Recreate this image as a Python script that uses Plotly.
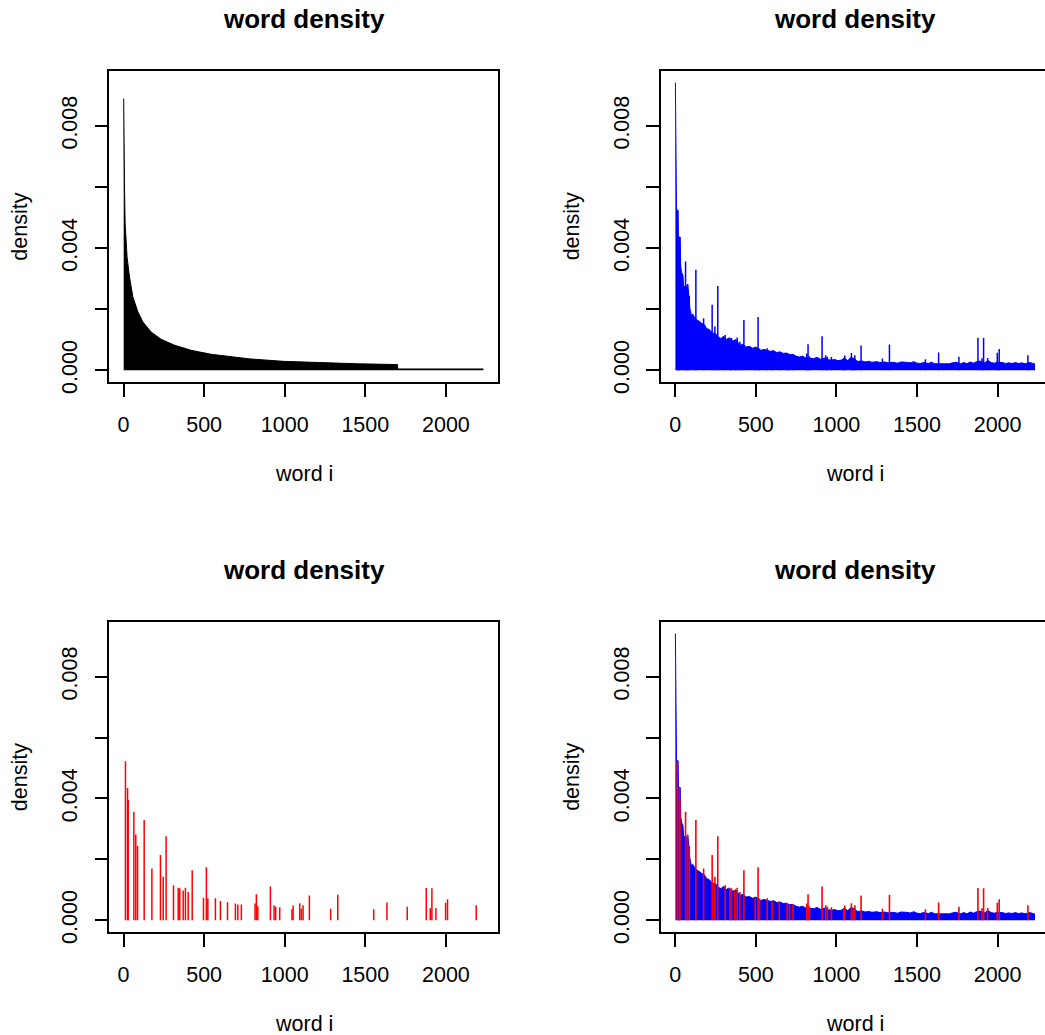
import plotly.graph_objects as go

W, H = 1045, 1035

# ---- data ----
# sorted word density (black, top-left)
black_rank = [1, 2, 6, 10, 22, 37, 58, 89, 120, 171, 233, 316, 420, 544, 689,
              784, 991, 1198, 1450, 1694, 1700, 1701, 2232]
black_density = [0.00889, 0.0072, 0.0060, 0.0048, 0.0037, 0.00305, 0.0024, 0.00191,
                 0.00158, 0.00125, 0.00101, 0.00082, 0.00065, 0.00052, 0.00042,
                 0.00037, 0.00029, 0.00025, 0.00021, 0.000185, 0.000185, 0.00004, 0.00004]

# document word density, dense body (blue)
blue_word = [1, 2, 3, 5, 7, 8, 18, 20, 31, 34, 40, 48, 52, 60, 70, 78, 84, 91, 100, 110,
             118, 135, 150, 165, 180, 195, 210, 225, 240, 255, 270, 285, 300, 315, 330,
             345, 360, 375, 390, 405, 420, 440, 460, 480, 500, 530, 550, 570, 590, 610,
             630, 650, 670, 690, 710, 730, 750, 770, 790, 810, 840, 860, 880, 900, 930,
             950, 970, 990, 1010, 1030, 1050, 1070, 1090, 1110, 1130, 1160, 1180, 1200,
             1220, 1250, 1270, 1300, 1320, 1350, 1380, 1400, 1430, 1460, 1480, 1500,
             1520, 1540, 1570, 1590, 1610, 1650, 1680, 1700, 1720, 1740, 1770, 1790,
             1810, 1830, 1850, 1870, 1890, 1920, 1940, 1960, 1980, 2000, 2030, 2050,
             2070, 2090, 2110, 2130, 2150, 2170, 2200, 2220, 2232]
blue_density = [0.00942, 0.0090, 0.0072, 0.0068, 0.0060, 0.00524, 0.00524, 0.00436,
                0.00436, 0.0034, 0.0032, 0.0031, 0.00278, 0.00273, 0.00272, 0.0028,
                0.00245, 0.00203, 0.0018, 0.00183, 0.00175, 0.00164, 0.0016, 0.00153,
                0.0015, 0.00136, 0.00134, 0.00125, 0.0012, 0.00118, 0.00107, 0.00104,
                0.00112, 0.001, 0.00105, 0.00098, 0.00096, 0.001, 0.0009, 0.00082,
                0.00085, 0.00076, 0.00078, 0.00072, 0.00076, 0.00065, 0.00068, 0.00066,
                0.00062, 0.00064, 0.00058, 0.0006, 0.00055, 0.00056, 0.00051, 0.00052,
                0.00046, 0.00043, 0.00046, 0.0004, 0.0004, 0.00038, 0.00042, 0.00036,
                0.0004, 0.00034, 0.00033, 0.00035, 0.00031, 0.00033, 0.0004, 0.00031,
                0.00042, 0.00038, 0.00029, 0.0003, 0.00027, 0.00029, 0.00026, 0.00028,
                0.00025, 0.00027, 0.00024, 0.00026, 0.00023, 0.00027, 0.00026, 0.00024,
                0.00028, 0.00023, 0.00022, 0.00025, 0.00022, 0.00026, 0.00021, 0.00021,
                0.0002, 0.00021, 0.00024, 0.00026, 0.00021, 0.00025, 0.00021, 0.00027,
                0.00023, 0.00028, 0.0003, 0.00024, 0.00032, 0.00025, 0.00023, 0.00026,
                0.00025, 0.00022, 0.00024, 0.00022, 0.00025, 0.00022, 0.00024, 0.00021,
                0.00025, 0.00022, 0.0002]

# selected words (red spikes; same positions appear as blue spikes)
spike_word = [12, 25, 29, 64, 76, 87, 128, 176, 229, 246, 264, 310, 339, 349, 370, 384,
              401, 426, 496, 514, 523, 570, 601, 645, 694, 709, 731, 816, 824, 833, 911,
              934, 944, 969, 1045, 1052, 1093, 1103, 1114, 1153, 1285, 1329, 1552, 1634,
              1760, 1878, 1903, 1913, 1938, 1998, 2010, 2188]
spike_density = [0.00522, 0.00434, 0.00396, 0.00356, 0.00282, 0.00244, 0.00329, 0.0017,
                 0.00214, 0.00143, 0.00276, 0.00115, 0.00107, 0.00105, 0.00098, 0.00107,
                 0.00093, 0.00164, 0.00074, 0.00174, 0.00071, 0.00072, 0.00063, 0.00059,
                 0.00055, 0.00052, 0.00052, 0.00055, 0.00085, 0.00046, 0.00111, 0.00049,
                 0.00044, 0.00043, 0.00036, 0.00048, 0.00056, 0.00038, 0.00049, 0.00081,
                 0.00038, 0.00084, 0.00036, 0.00058, 0.00044, 0.00106, 0.00039, 0.00105,
                 0.0004, 0.00057, 0.00069, 0.00049]

x_ticks = [0, 500, 1000, 1500, 2000]
y_ticks = [0, 0.002, 0.004, 0.006, 0.008]
y_ticktext = ["0.000", "", "0.004", "", "0.008"]

# ---- helpers ----
def segs(xs, ys):
    sx, sy = [], []
    for a, b in zip(xs, ys):
        sx += [a, a, None]
        sy += [0, b, None]
    return sx, sy

FONT = "Liberation Sans, Arial, Helvetica, sans-serif"
sx, sy = segs(spike_word, spike_density)

fig = go.Figure()
# panel 1
fig.add_trace(go.Scatter(x=black_rank, y=black_density, mode="lines", fill="tozeroy",
                         line=dict(color="black", width=1), fillcolor="black",
                         xaxis="x", yaxis="y", hoverinfo="skip"))
# panel 2
fig.add_trace(go.Scatter(x=blue_word, y=blue_density, mode="lines", fill="tozeroy",
                         line=dict(color="blue", width=1), fillcolor="blue",
                         xaxis="x2", yaxis="y2", hoverinfo="skip"))
fig.add_trace(go.Scatter(x=sx, y=sy, mode="lines", line=dict(color="blue", width=1.5),
                         xaxis="x2", yaxis="y2", hoverinfo="skip"))
# panel 3
fig.add_trace(go.Scatter(x=sx, y=sy, mode="lines", line=dict(color="red", width=1.5),
                         xaxis="x3", yaxis="y3", hoverinfo="skip"))
# panel 4
fig.add_trace(go.Scatter(x=blue_word, y=blue_density, mode="lines", fill="tozeroy",
                         line=dict(color="blue", width=1), fillcolor="blue",
                         xaxis="x4", yaxis="y4", hoverinfo="skip"))
fig.add_trace(go.Scatter(x=sx, y=sy, mode="lines", line=dict(color="red", width=1.6),
                         xaxis="x4", yaxis="y4", hoverinfo="skip"))

XR = [-88.3, 2321.3]
YR = [-0.000377, 0.009797]
BOXW = 388.4

def xpx(p):
    return p / W

def ypx(p):
    return 1 - p / H

RXR = [XR[0], XR[0] + (W - 661) * (XR[1] - XR[0]) / BOXW]
panels = {
    1: dict(x0=109.3, y0=71, y1=381.7, xr=XR, right=True),
    2: dict(x0=661, y0=71, y1=381.7, xr=RXR, right=False),
    3: dict(x0=109.3, y0=622, y1=931.7, xr=XR, right=True),
    4: dict(x0=661, y0=622, y1=931.7, xr=RXR, right=False),
}

tickfont = dict(family=FONT, size=21.5, color="black")
layout = dict(width=W, height=H, autosize=False, margin=dict(l=0, r=0, t=0, b=0),
              paper_bgcolor="white", plot_bgcolor="white", showlegend=False)
annotations = []
for i, p in panels.items():
    sfx = "" if i == 1 else str(i)
    x1 = p["x0"] + BOXW if p["right"] else W
    layout["xaxis" + sfx] = dict(
        domain=[xpx(p["x0"]), xpx(x1)], range=p["xr"], anchor="y" + sfx,
        tickvals=x_ticks, ticktext=[str(v) for v in x_ticks], ticks="outside", ticklen=13,
        tickwidth=1.5, tickcolor="black", showline=True, linecolor="black", linewidth=1.6,
        mirror=True, showgrid=False, zeroline=False, tickfont=tickfont,
        ticklabelstandoff=10, fixedrange=True, automargin=False)
    layout["yaxis" + sfx] = dict(
        domain=[ypx(p["y1"]), ypx(p["y0"])], range=YR, anchor="x" + sfx,
        tickvals=y_ticks, ticktext=y_ticktext, tickangle=-90, ticks="outside", ticklen=13,
        tickwidth=1.5, tickcolor="black", showline=True, linecolor="black", linewidth=1.6,
        mirror=p["right"], showgrid=False, zeroline=False, tickfont=tickfont,
        ticklabelstandoff=9, fixedrange=True, automargin=False)
    cx = p["x0"] + BOXW / 2
    annotations.append(dict(text="<b>word density</b>", x=xpx(cx), y=ypx(p["y0"] - 52),
                            xref="paper", yref="paper", showarrow=False,
                            xanchor="center", yanchor="middle",
                            font=dict(family=FONT, size=26, color="black")))
    annotations.append(dict(text="word i", x=xpx(cx), y=ypx(p["y1"] + 92),
                            xref="paper", yref="paper", showarrow=False,
                            xanchor="center", yanchor="middle",
                            font=dict(family=FONT, size=21.5, color="black")))
    annotations.append(dict(text="density", x=xpx(p["x0"] - 89), y=ypx((p["y0"] + p["y1"]) / 2),
                            xref="paper", yref="paper", showarrow=False, textangle=-90,
                            xanchor="center", yanchor="middle",
                            font=dict(family=FONT, size=21.5, color="black")))
layout["annotations"] = annotations
fig.update_layout(**layout)

post = ("document.documentElement.style.margin='0';"
        "document.documentElement.style.padding='0';"
        "document.documentElement.style.overflow='hidden';"
        "document.body.style.margin='0';"
        "document.body.style.padding='0';"
        "document.body.style.overflow='hidden';")
fig.write_html("out.html", config={"displayModeBar": False}, post_script=post)
